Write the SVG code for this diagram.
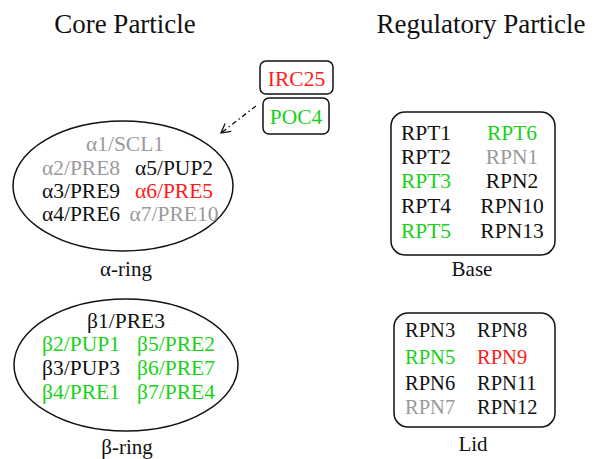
<svg xmlns="http://www.w3.org/2000/svg" width="598" height="459" viewBox="0 0 598 459">
<defs>
<style>
text{font-family:'Liberation Serif','Times New Roman','DejaVu Serif',serif;fill:#111}
.t{font-size:27px}
.a{font-size:21.5px}
.l{font-size:20.5px}
.b{font-size:21px}
.g{fill:#19d119}
.r{fill:#ff1a1a}
.y{fill:#9a9a9a}
.shape{fill:none;stroke:#111;stroke-width:1.5}
</style>
<marker id="ah" markerWidth="12" markerHeight="12" refX="10" refY="6" orient="auto" markerUnits="userSpaceOnUse">
<path d="M1,1 L10,6 L1,11" fill="none" stroke="#111" stroke-width="1.3"/>
</marker>
</defs>
<rect width="598" height="459" fill="#fff"/>
<g font-family="Liberation Serif, Times New Roman, serif">
<text class="t" x="125" y="33" text-anchor="middle">Core Particle</text>
<text class="t" x="481" y="33" text-anchor="middle">Regulatory Particle</text>

<g id="connectors">
<line x1="256" y1="106" x2="221" y2="133" stroke="#111" stroke-width="1.3" stroke-dasharray="5,3,1.5,3" marker-end="url(#ah)"/>
</g>

<g id="irc25">
<rect class="shape" x="260" y="61" width="73" height="33" rx="6"/>
<text class="a r" x="296.5" y="86" text-anchor="middle">IRC25</text>
</g>
<g id="poc4">
<rect class="shape" x="263" y="98" width="66" height="36" rx="6"/>
<text class="a g" x="296" y="124" text-anchor="middle">POC4</text>
</g>

<g id="alpha-ring">
<ellipse class="shape" cx="123" cy="186" rx="110" ry="65"/>
<text class="a y" x="125" y="151" text-anchor="middle">α1/SCL1</text>
<text class="a y" x="81" y="175" text-anchor="middle">α2/PRE8</text>
<text class="a" x="174" y="175" text-anchor="middle">α5/PUP2</text>
<text class="a" x="81" y="198" text-anchor="middle">α3/PRE9</text>
<text class="a r" x="174" y="198" text-anchor="middle">α6/PRE5</text>
<text class="a" x="81" y="221" text-anchor="middle">α4/PRE6</text>
<text class="a y" x="174" y="221" text-anchor="middle">α7/PRE10</text>
<text class="b" x="126" y="276" text-anchor="middle">α-ring</text>
</g>

<g id="beta-ring">
<ellipse class="shape" cx="126" cy="365" rx="112" ry="66"/>
<text class="a" x="126" y="328" text-anchor="middle">β1/PRE3</text>
<text class="a g" x="81" y="351" text-anchor="middle">β2/PUP1</text>
<text class="a g" x="176" y="351" text-anchor="middle">β5/PRE2</text>
<text class="a" x="81" y="375" text-anchor="middle">β3/PUP3</text>
<text class="a g" x="176" y="375" text-anchor="middle">β6/PRE7</text>
<text class="a g" x="81" y="399" text-anchor="middle">β4/PRE1</text>
<text class="a g" x="176" y="399" text-anchor="middle">β7/PRE4</text>
<text class="b" x="127" y="454" text-anchor="middle">β-ring</text>
</g>

<g id="base">
<rect class="shape" x="391" y="112" width="164" height="143" rx="14"/>
<text class="a" x="426" y="140" text-anchor="middle">RPT1</text>
<text class="a" x="426" y="164" text-anchor="middle">RPT2</text>
<text class="a g" x="426" y="188" text-anchor="middle">RPT3</text>
<text class="a" x="426" y="213" text-anchor="middle">RPT4</text>
<text class="a g" x="426" y="238" text-anchor="middle">RPT5</text>
<text class="a g" x="512" y="140" text-anchor="middle">RPT6</text>
<text class="a y" x="512" y="164" text-anchor="middle">RPN1</text>
<text class="a" x="512" y="188" text-anchor="middle">RPN2</text>
<text class="a" x="512" y="213" text-anchor="middle">RPN10</text>
<text class="a" x="512" y="238" text-anchor="middle">RPN13</text>
<text class="b" x="472" y="276" text-anchor="middle">Base</text>
</g>

<g id="lid">
<rect class="shape" x="394" y="313" width="161" height="114" rx="14"/>
<text class="l" x="405" y="337">RPN3</text>
<text class="l g" x="405" y="364">RPN5</text>
<text class="l" x="405" y="390">RPN6</text>
<text class="l y" x="405" y="414">RPN7</text>
<text class="l" x="477" y="337">RPN8</text>
<text class="l r" x="477" y="364">RPN9</text>
<text class="l" x="477" y="390">RPN11</text>
<text class="l" x="477" y="414">RPN12</text>
<text class="b" x="473" y="451" text-anchor="middle">Lid</text>
</g>
</g>
</svg>
